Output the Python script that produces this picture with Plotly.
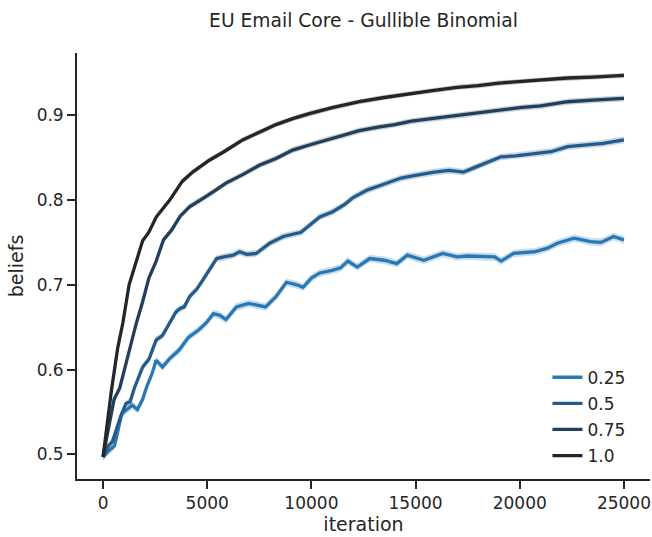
import plotly.graph_objects as go

title = "EU Email Core - Gullible Binomial"
labels = ["0.25", "0.5", "0.75", "1.0"]
colors = ["#2878b5", "#235b8b", "#233e58", "#22262b"]
ci_half = [0.0045, 0.004, 0.0035, 0.003]

x_025 = [0, 300, 550, 700, 900, 1100, 1400, 1650, 1900, 2100, 2350, 2550, 2850, 3200, 3650, 4100, 4600, 4950,
         5300, 5600, 5900, 6400, 7000, 7800, 8300, 8800, 9300, 9600, 10000, 10400, 11000, 11400, 11750, 12200,
         12800, 13500, 14100, 14600, 15400, 16300, 17000, 17500, 18300, 18800, 19100, 19700, 20700, 21300,
         21800, 22600, 23400, 23900, 24500, 25000]
y_025 = [0.497, 0.505, 0.510, 0.525, 0.548, 0.552, 0.558, 0.553, 0.565, 0.580, 0.595, 0.611, 0.603, 0.613,
         0.623, 0.638, 0.647, 0.655, 0.666, 0.664, 0.659, 0.674, 0.678, 0.674, 0.686, 0.703, 0.700, 0.697,
         0.708, 0.714, 0.717, 0.720, 0.728, 0.721, 0.731, 0.729, 0.725, 0.735, 0.729, 0.737, 0.733, 0.734,
         0.733, 0.733, 0.728, 0.737, 0.739, 0.743, 0.749, 0.755, 0.751, 0.750, 0.757, 0.753]

x_05 = [0, 250, 450, 650, 850, 1100, 1300, 1500, 1900, 2200, 2550, 2850, 3200, 3500, 3700, 3900, 4150, 4500,
        4800, 5100, 5450, 5800, 6250, 6550, 6900, 7350, 8000, 8650, 9100, 9500, 10000, 10400, 11000, 11600,
        12000, 12700, 13400, 14300, 15000, 15900, 16600, 17300, 18000, 19100, 19800, 20700, 21500, 22300,
        23200, 24000, 25000]
y_05 = [0.497, 0.510, 0.515, 0.530, 0.545, 0.560, 0.562, 0.578, 0.603, 0.612, 0.635, 0.640, 0.655, 0.668,
        0.672, 0.674, 0.686, 0.695, 0.706, 0.718, 0.731, 0.733, 0.735, 0.739, 0.736, 0.737, 0.749, 0.757,
        0.760, 0.762, 0.772, 0.780, 0.786, 0.795, 0.803, 0.812, 0.818, 0.826, 0.829, 0.833, 0.835, 0.833,
        0.840, 0.851, 0.852, 0.855, 0.857, 0.863, 0.865, 0.867, 0.871]

x_075 = [0, 300, 530, 800, 1250, 1600, 1900, 2200, 2550, 2900, 3300, 3700, 4150, 4500, 4800, 5300, 5900,
         6700, 7500, 8300, 9100, 9900, 10700, 11500, 12300, 13200, 14000, 14800, 15800, 17000, 18000, 19000,
         20000, 21000, 22300, 23500, 25000]
y_075 = [0.497, 0.535, 0.565, 0.578, 0.623, 0.655, 0.680, 0.708, 0.728, 0.753, 0.765, 0.781, 0.792, 0.798,
         0.802, 0.810, 0.820, 0.830, 0.841, 0.849, 0.859, 0.865, 0.871, 0.876, 0.882, 0.886, 0.889, 0.893,
         0.896, 0.900, 0.903, 0.906, 0.909, 0.911, 0.916, 0.918, 0.920]

x_10 = [0, 200, 400, 700, 950, 1250, 1600, 1900, 2200, 2550, 3200, 3800, 4300, 5100, 5800, 6700, 7500, 8300,
        9100, 9900, 11000, 12300, 13500, 14800, 15800, 17000, 18000, 19000, 20000, 21000, 22300, 23500, 25000]
y_10 = [0.497, 0.540, 0.575, 0.625, 0.655, 0.700, 0.728, 0.752, 0.762, 0.780, 0.800, 0.822, 0.833, 0.847,
        0.857, 0.871, 0.880, 0.889, 0.896, 0.902, 0.909, 0.916, 0.921, 0.926, 0.929, 0.933, 0.935, 0.938,
        0.940, 0.942, 0.944, 0.945, 0.947]

series_x = [x_025, x_05, x_075, x_10]
series_y = [y_025, y_05, y_075, y_10]


def rgba(hexc, a):
    h = hexc.lstrip("#")
    return f"rgba({int(h[0:2],16)},{int(h[2:4],16)},{int(h[4:6],16)},{a})"


fig = go.Figure()
for lab, col, ci, xs, ys in zip(labels, colors, ci_half, series_x, series_y):
    upper = [v + ci for v in ys]
    lower = [v - ci for v in ys]
    fig.add_trace(go.Scatter(
        x=xs + xs[::-1], y=upper + lower[::-1], fill="toself",
        fillcolor=rgba(col, 0.25), line=dict(width=0), mode="lines",
        hoverinfo="skip", showlegend=False, legendgroup=lab))
    fig.add_trace(go.Scatter(
        x=xs, y=ys, mode="lines", name=lab, legendgroup=lab,
        line=dict(color=col, width=3.3)))

axis_common = dict(
    showline=True, linecolor="#262626", linewidth=1.8, ticks="outside", ticklen=8, tickwidth=1.6,
    tickcolor="#262626", showgrid=False, zeroline=False, mirror=False,
    tickfont=dict(family="DejaVu Sans", size=17, color="#262626"),
)

fig.update_layout(
    width=652, height=537,
    margin=dict(l=77, r=2, t=53, b=58),
    paper_bgcolor="white", plot_bgcolor="white",
    title=dict(text=title, x=0.5, xref="paper", xanchor="center", y=1 - 20 / 537, yanchor="middle",
               font=dict(family="DejaVu Sans", size=18.7, color="#262626")),
    xaxis=dict(range=[-1250, 26250], tickvals=[0, 5000, 10000, 15000, 20000, 25000],
               ticktext=["0", "5000", "10000", "15000", "20000", "25000"],
               title=dict(text="iteration", font=dict(family="DejaVu Sans", size=19, color="#262626"),
                          standoff=4),
               **axis_common),
    yaxis=dict(range=[0.4709, 0.9735], tickvals=[0.5, 0.6, 0.7, 0.8, 0.9],
               ticktext=["0.5", "0.6", "0.7", "0.8", "0.9"],
               title=dict(text="beliefs", font=dict(family="DejaVu Sans", size=19, color="#262626"),
                          standoff=8),
               **axis_common),
    legend=dict(x=0.821, y=0.28, xanchor="left", yanchor="top", bgcolor="rgba(0,0,0,0)",
                font=dict(family="DejaVu Sans", size=17, color="#262626"), tracegroupgap=1),
    showlegend=True,
)

fig.write_html("out.html")
